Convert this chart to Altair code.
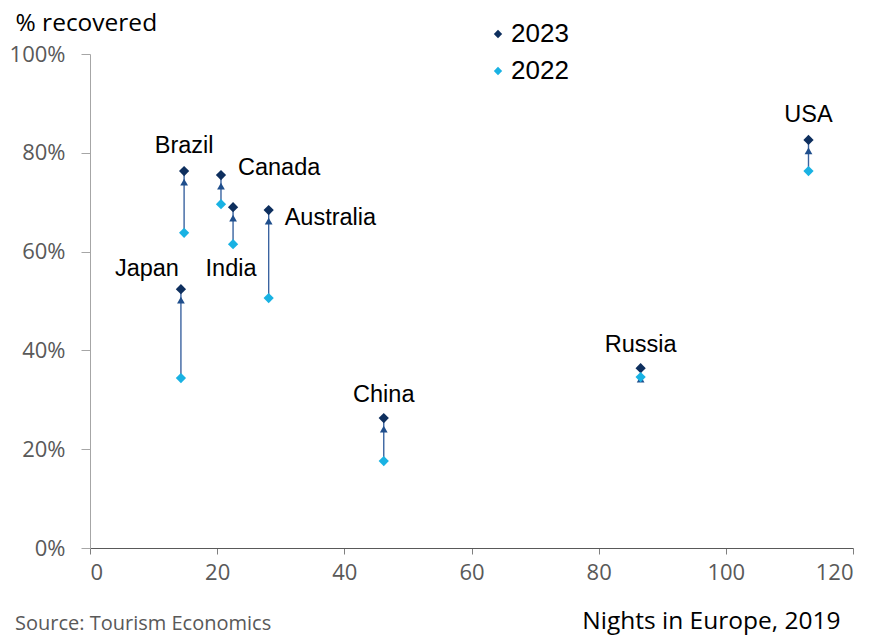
import altair as alt
import pandas as pd

countries = ["Brazil", "Canada", "India", "Australia", "Japan", "China", "Russia", "USA"]
nights_2019 = [14.8, 20.6, 22.5, 28.1, 14.3, 46.2, 86.6, 113.0]
recovered_2023 = [76.3, 75.5, 69.0, 68.4, 52.4, 26.3, 36.4, 82.6]
recovered_2022 = [63.8, 69.6, 61.5, 50.6, 34.4, 17.6, 34.6, 76.3]
x_ticks = [0, 20, 40, 60, 80, 100, 120]
y_ticks = [0, 20, 40, 60, 80, 100]

# label placement (pixels, relative to 2023 point): dx, dy, align
label_layout = {
    "Brazil": (0, -25, "center"),
    "Canada": (17, -7, "left"),
    "India": (-2, 62, "center"),
    "Australia": (16, 8, "left"),
    "Japan": (-34, -20, "center"),
    "China": (0, -23, "center"),
    "Russia": (0, -23, "center"),
    "USA": (0, -25, "center"),
}

C23 = "#0E2F5E"
C22 = "#19B2E3"
CARROW = "#1F4E8C"
CLINE = "#3A63A0"

df = pd.DataFrame({
    "country": countries,
    "nights": nights_2019,
    "y2023": recovered_2023,
    "y2022": recovered_2022,
})
long = pd.concat([
    pd.DataFrame({"country": countries, "nights": nights_2019, "value": recovered_2023, "year": "2023"}),
    pd.DataFrame({"country": countries, "nights": nights_2019, "value": recovered_2022, "year": "2022"}),
])

xs = alt.Scale(domain=[0, 120], nice=False)
ys = alt.Scale(domain=[0, 100], nice=False)

base = alt.Chart(df)

x_enc = alt.X("nights:Q", scale=xs, axis=alt.Axis(
    values=x_ticks, title="Nights in Europe, 2019", titleAnchor="end",
    titleAlign="right", titleX=750, titleY=80, titleBaseline="alphabetic",
    titleFont="Open Sans", titleFontSize=24.5, titleFontWeight="normal", titleColor="#000000",
    labelFont="Open Sans", labelFontSize=22, labelColor="#595959", labelPadding=8,
    domainColor="#595959", tickColor="#7F7F7F", tickSize=6, grid=False))

rules = base.mark_rule(color=CLINE, strokeWidth=1.4).encode(
    x=x_enc,
    y=alt.Y("y2022:Q", scale=ys, axis=alt.Axis(
        values=y_ticks, format=".0f", labelExpr="datum.value + '%'",
        title="% recovered", titleAngle=0, titleAlign="left", titleX=-75, titleY=-24,
        titleBaseline="alphabetic", titleFont="Open Sans", titleFontSize=24.5,
        titleFontWeight="normal", titleColor="#000000",
        labelFont="Open Sans", labelFontSize=22, labelColor="#595959", labelPadding=16,
        domainColor="#A6A6A6", tickColor="#A6A6A6", tickSize=9, grid=False)),
    y2="y2023:Q",
)

heads = base.mark_point(shape="triangle-up", filled=True, opacity=1, color=CARROW,
                        size=60, yOffset=11).encode(
    x=alt.X("nights:Q", scale=xs),
    y=alt.Y("y2023:Q", scale=ys),
)

points = alt.Chart(long).mark_point(shape="diamond", filled=True, opacity=1, size=105).encode(
    x=alt.X("nights:Q", scale=xs),
    y=alt.Y("value:Q", scale=ys),
    color=alt.Color("year:N", scale=alt.Scale(domain=["2023", "2022"], range=[C23, C22]),
                    legend=alt.Legend(title=None, orient="none", legendX=395, legendY=-33,
                                      symbolType="diamond", symbolSize=70, symbolOpacity=1,
                                      labelFont="Liberation Sans", labelFontSize=26,
                                      labelColor="#000000", rowPadding=11, labelOffset=0)),
)

label_layers = []
for c in countries:
    dx, dy, al = label_layout[c]
    label_layers.append(
        alt.Chart(df[df.country == c]).mark_text(
            dx=dx, dy=dy, align=al, baseline="middle", font="Liberation Sans",
            fontSize=23.5, color="#000000").encode(
            x=alt.X("nights:Q", scale=xs),
            y=alt.Y("y2023:Q", scale=ys),
            text="country:N",
        )
    )

source = alt.Chart(pd.DataFrame({"t": ["Source: Tourism Economics"]})).mark_text(
    align="left", baseline="alphabetic", font="Open Sans", fontSize=20, color="#595959"
).encode(x=alt.value(-75), y=alt.value(576), text="t:N")

chart = alt.layer(rules, heads, points, *label_layers, source).properties(
    width=763, height=494,
    autosize=alt.AutoSizeParams(type="none"),
    padding={"left": 90, "top": 54, "right": 24, "bottom": 89},
).configure_view(stroke=None)

chart.save("out.html", embed_options={"renderer": "svg", "actions": False})
